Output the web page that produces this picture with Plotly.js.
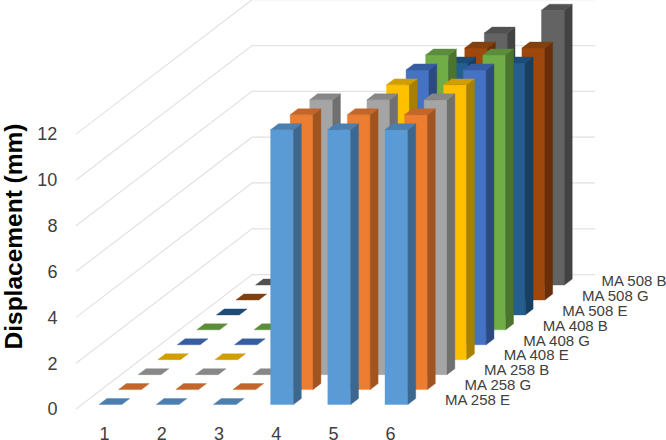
<!DOCTYPE html>
<html>
<head>
<meta charset="utf-8">
<script src="https://cdn.plot.ly/plotly-3.0.1.min.js"></script>
<style>html,body{margin:0;padding:0;background:#fff}#chart{width:666px;height:440px}</style>
</head>
<body>
<div id="chart"></div>
<script>
// Data
const categories = ['1','2','3','4','5','6'];
const seriesNames = ['MA 258 E','MA 258 G','MA 258 B','MA 408 E','MA 408 G','MA 408 B','MA 508 E','MA 508 G','MA 508 B'];
const ma258E = [0,0,0,12,12,12];
const ma258G = [0,0,0,12,12,12];
const ma258B = [0,0,0,12,12,12];
const ma408E = [0,0,0,0,12,12];
const ma408G = [0,0,0,0,12,12];
const ma408B = [0,0,0,0,12,12];
const ma508E = [0,0,0,0,11,11];
const ma508G = [0,0,0,0,11,11];
const ma508B = [0,0,0,0,11,12];
const seriesValues = [ma258E,ma258G,ma258B,ma408E,ma408G,ma408B,ma508E,ma508G,ma508B];
const valueTicks = [0,2,4,6,8,10,12];

// Styles
const frontColors = ['#5B9BD5','#ED7D31','#A5A5A5','#FFC000','#4472C4','#70AD47','#255E91','#9E480E','#636363'];
const sideColors  = ['#3C6890','#A0541F','#707070','#A88000','#2C4A80','#4A7430','#163F62','#6A2F09','#424242'];
const topColors   = ['#4A7FAF','#C2662A','#878787','#D19E00','#365DA0','#5B8D3A','#1E4C76','#82400F','#515151'];

// Oblique projection of the depth axis onto the category/value axes
const depthX = 0.342, depthY = 0.652;
const slotGap = 0.3, barWidth = 0.4;
const P = (c, d, v) => [c + d * depthX, v + d * depthY];

function polys(list) {
  const x = [], y = [];
  list.forEach(poly => {
    poly.forEach(p => { x.push(p[0]); y.push(p[1]); });
    x.push(poly[0][0]); y.push(poly[0][1]);
    x.push(null); y.push(null);
  });
  return {x, y};
}
function faceTrace(list, color) {
  const g = polys(list);
  return {x: g.x, y: g.y, type: 'scatter', mode: 'lines', fill: 'toself', fillcolor: color,
          line: {color: color, width: 0.4}, hoverinfo: 'skip', showlegend: false};
}

const traces = [];
const nDepth = seriesNames.length, nCat = categories.length;

// Walls: gridlines run along the side wall and across the back wall
const gx = [], gy = [];
valueTicks.forEach(v => {
  [P(0,0,v), P(0,nDepth,v), P(nCat,nDepth,v)].forEach(p => { gx.push(p[0]); gy.push(p[1]); });
  gx.push(null); gy.push(null);
});
traces.push({x: gx, y: gy, type: 'scatter', mode: 'lines', line: {color: '#E2E2E2', width: 1.2},
             hoverinfo: 'skip', showlegend: false});

// Bars, painted from the back series to the front one
for (let s = nDepth - 1; s >= 0; s--) {
  const front = [], side = [], top = [];
  seriesValues[s].forEach((v, i) => {
    const c0 = i + slotGap, c1 = c0 + barWidth;
    const d0 = s + slotGap, d1 = d0 + barWidth;
    if (v > 0) {
      front.push([P(c0,d0,0), P(c1,d0,0), P(c1,d0,v), P(c0,d0,v)]);
      side.push([P(c1,d0,0), P(c1,d1,0), P(c1,d1,v), P(c1,d0,v)]);
    }
    top.push([P(c0,d0,v), P(c1,d0,v), P(c1,d1,v), P(c0,d1,v)]);
  });
  traces.push(faceTrace(front, frontColors[s]));
  traces.push(faceTrace(side, sideColors[s]));
  traces.push(faceTrace(top, topColors[s]));
}

// Depth axis labels
const labelPts = seriesNames.map((n, s) => P(nCat + 0.28, s + 0.5, 0));
traces.push({x: labelPts.map(p => p[0]), y: labelPts.map(p => p[1]), text: seriesNames,
  type: 'scatter', mode: 'text', textposition: 'middle right', cliponaxis: false,
  textfont: {family: 'Liberation Sans, Arial, sans-serif', size: 15, color: '#404040'},
  hoverinfo: 'skip', showlegend: false});

const layout = {
  width: 666, height: 440,
  margin: {l: 70, r: 0, t: 0, b: 29, pad: 0},
  paper_bgcolor: '#fff', plot_bgcolor: '#fff',
  showlegend: false,
  font: {family: 'Liberation Sans, Arial, sans-serif', size: 18, color: '#404040'},
  xaxis: {range: [-0.105, 10.315], tickmode: 'array',
          tickvals: categories.map((c, i) => i + 0.5), ticktext: categories,
          showgrid: false, zeroline: false, showline: false,
          ticks: 'outside', ticklen: 6, tickcolor: 'rgba(0,0,0,0)', tickfont: {size: 18, color: '#404040'}},
  yaxis: {range: [-0.0875, 17.856], tickmode: 'array', tickvals: valueTicks,
          ticktext: valueTicks.map(String),
          showgrid: false, zeroline: false, showline: false,
          ticks: 'outside', ticklen: 8, tickcolor: 'rgba(0,0,0,0)', tickfont: {size: 18, color: '#404040'}},
  annotations: [{text: '<b>Displacement (mm)</b>', xref: 'paper', yref: 'paper',
    x: (12.5 - 70) / 596, y: (411 - 237) / 411, xanchor: 'center', yanchor: 'middle',
    textangle: -90, showarrow: false,
    font: {family: 'Liberation Sans, Arial, sans-serif', size: 24.5, color: '#000'}}]
};
Plotly.newPlot('chart', traces, layout, {displayModeBar: false, staticPlot: true});
</script>
</body>
</html>
